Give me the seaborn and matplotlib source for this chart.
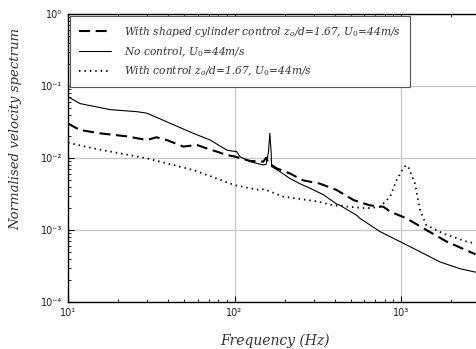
import numpy as np
import pandas as pd
import matplotlib
matplotlib.use("Agg")
import matplotlib.pyplot as plt
import seaborn as sns
from matplotlib.ticker import LogLocator, FixedLocator, FixedFormatter, NullFormatter

# ---- data ----
no_ctrl_f = [10, 11.8, 17.9, 25.9, 29.7, 43, 56.6, 71.3, 89.8, 96, 103, 108, 124, 149, 155, 160, 163, 166,
             167, 187, 215, 247, 284, 341, 410, 430, 542, 567, 748, 986, 1300, 1714, 2259, 2800]
no_ctrl_v = [0.071, 0.057, 0.047, 0.044, 0.042, 0.029, 0.022, 0.0178, 0.0129, 0.0125, 0.0123, 0.0104, 0.0089,
             0.0080, 0.0082, 0.012, 0.022, 0.012, 0.0076, 0.0065, 0.0052, 0.0044, 0.0038, 0.0031, 0.0023,
             0.0022, 0.0016, 0.00145, 0.00095, 0.00069, 0.0005, 0.00036, 0.00029, 0.00026]

shaped_f = [10, 11.8, 15.6, 22.5, 29.7, 34, 39.1, 49.3, 59.4, 68, 78, 89.8, 100, 124, 149, 155, 160, 179,
            215, 258, 326, 410, 520, 650, 785, 860, 1080, 1420, 1880, 2800]
shaped_v = [0.030, 0.0245, 0.022, 0.020, 0.0178, 0.0194, 0.0178, 0.0144, 0.0152, 0.0136, 0.0123, 0.011,
            0.0105, 0.0091, 0.0089, 0.0101, 0.0085, 0.0072, 0.0061, 0.0049, 0.0044, 0.0036, 0.0026, 0.0022,
            0.0021, 0.0018, 0.00145, 0.001, 0.00069, 0.00046]

ctrl_f = [10, 14.2, 29.7, 56.6, 78, 100, 124, 142, 150, 197, 312, 393, 620, 748, 860, 940, 1030, 1070, 1104,
          1210, 1300, 1420, 1800, 2480, 2800]
ctrl_v = [0.0163, 0.0136, 0.0099, 0.0068, 0.0052, 0.0042, 0.0038, 0.0036, 0.0037, 0.0029, 0.0025, 0.0022,
          0.0020, 0.0021, 0.0029, 0.0049, 0.0072, 0.0079, 0.0076, 0.0045, 0.0019, 0.00117, 0.00089, 0.00069,
          0.00065]

series_labels = [r"With shaped cylinder control z$_o$/d=1.67, U$_0$=44m/s",
                 r"No control, U$_0$=44m/s",
                 r"With control z$_o$/d=1.67, U$_0$=44m/s"]

xticks = [10, 100, 1000]
xtick_labels = ["10¹", "10²", "10³"]
yticks = [1e-4, 1e-3, 1e-2, 1e-1, 1e0]
ytick_labels = ["10⁻⁴", "10⁻³", "10⁻²", "10⁻¹", "10⁰"]

# ---- style ----
sns.set_theme(style="white")
plt.rcParams["font.family"] = ["DejaVu Serif"]
plt.rcParams["mathtext.fontset"] = "dejavuserif"

W, H = 476, 349
fig = plt.figure(figsize=(W / 100, H / 100), dpi=100)
fig.patch.set_facecolor("white")
left, dec, top, bottom = 68, 166.5, 14, 302
ax = fig.add_axes([left / W, (H - bottom) / H, 3 * dec / W, (bottom - top) / H])
ax.set_facecolor("white")

df_shaped = pd.DataFrame({"f": shaped_f, "v": shaped_v})
df_no = pd.DataFrame({"f": no_ctrl_f, "v": no_ctrl_v})
df_ctrl = pd.DataFrame({"f": ctrl_f, "v": ctrl_v})

sns.lineplot(data=df_shaped, x="f", y="v", ax=ax, color="black", lw=1.5, label=series_labels[0],
             estimator=None, sort=False)
ax.get_lines()[-1].set_dashes((5.3, 2.7))
sns.lineplot(data=df_no, x="f", y="v", ax=ax, color="black", lw=0.8, label=series_labels[1],
             estimator=None, sort=False)
sns.lineplot(data=df_ctrl, x="f", y="v", ax=ax, color="black", lw=1.3, label=series_labels[2],
             estimator=None, sort=False)
ax.get_lines()[-1].set_dashes((0.8, 2.2))

ax.set_xscale("log")
ax.set_yscale("log")
ax.set_xlim(10, 10000)
ax.set_ylim(1e-4, 1e0)

ax.xaxis.set_major_locator(FixedLocator(xticks))
ax.xaxis.set_major_formatter(FixedFormatter(xtick_labels))
ax.yaxis.set_major_locator(FixedLocator(yticks))
ax.yaxis.set_major_formatter(FixedFormatter(ytick_labels))
ax.xaxis.set_minor_locator(LogLocator(base=10, subs=np.arange(2, 10), numticks=20))
ax.yaxis.set_minor_locator(LogLocator(base=10, subs=np.arange(2, 10), numticks=20))
ax.xaxis.set_minor_formatter(NullFormatter())
ax.yaxis.set_minor_formatter(NullFormatter())

ax.tick_params(which="both", direction="in", top=True, right=False, bottom=True, left=True,
               color="black", labelsize=7, labelcolor="#222222", labelfontfamily="DejaVu Sans")
ax.tick_params(which="major", length=4, width=0.8)
ax.tick_params(which="minor", length=2.5, width=0.6)
ax.tick_params(axis="y", pad=4)
ax.tick_params(axis="x", pad=4)

ax.grid(True, which="major", color="#c8c8c8", lw=0.9)
for s in ["left", "bottom", "top"]:
    ax.spines[s].set_visible(True)
    ax.spines[s].set_color("black")
    ax.spines[s].set_linewidth(1.0)
ax.spines["right"].set_visible(False)

ax.set_xlabel("Frequency (Hz)", fontsize=10, style="italic", color="#333333")
ax.set_ylabel("Normalised velocity spectrum", fontsize=9.5, style="italic", color="#333333")
ax.xaxis.set_label_coords((275 - left) / (3 * dec), -(334 - bottom) / (bottom - top))
ax.yaxis.set_label_coords(-(left - 22) / (3 * dec), (bottom - 129) / (bottom - top))

leg = ax.legend(loc="upper left", bbox_to_anchor=(0.004, 0.993), borderaxespad=0, frameon=True,
                fancybox=False, edgecolor="#555555", framealpha=1, handlelength=3.0, handletextpad=1.2,
                labelspacing=0.55, borderpad=0.85,
                prop={"family": "DejaVu Serif", "style": "italic", "size": 7.7})
leg.get_frame().set_linewidth(0.8)
for t in leg.get_texts():
    t.set_color("#333333")

fig.savefig("out.png", dpi=100, facecolor="white")
